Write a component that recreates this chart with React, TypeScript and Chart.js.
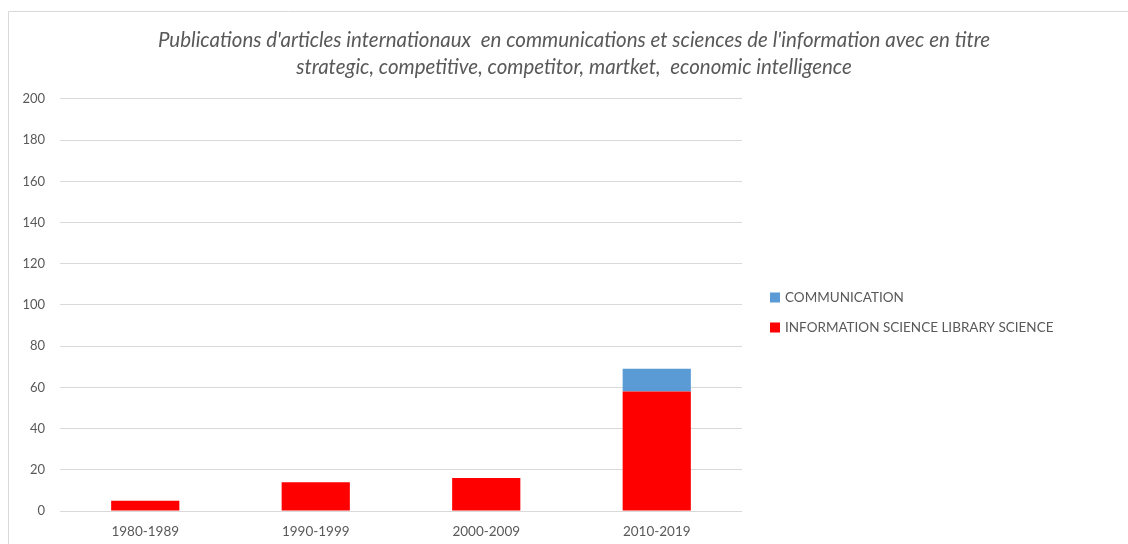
import React, { useEffect, useRef } from "react";
import { Chart, registerables } from "chart.js";

Chart.register(...registerables);

const categories = ["1980-1989", "1990-1999", "2000-2009", "2010-2019"];
const infoScience = [5, 14, 16, 58];
const communication = [0, 0, 0, 11];
const titleLines = [
  "Publications d'articles internationaux  en communications et sciences de l'information avec en titre",
  "strategic, competitive, competitor, martket,  economic intelligence",
];

const GREY = "#595959";
const FONT = "Lato, 'Liberation Sans', sans-serif";

const frame = {
  id: "frame",
  beforeDraw(chart: any) {
    const ctx = chart.ctx;
    ctx.save();
    ctx.strokeStyle = "#d9d9d9";
    ctx.lineWidth = 1;
    ctx.beginPath();
    ctx.moveTo(8.5, chart.height);
    ctx.lineTo(8.5, 11.5);
    ctx.lineTo(chart.width, 11.5);
    ctx.stroke();
    ctx.restore();
  },
};

const sideLegend = {
  id: "sideLegend",
  afterDraw(chart: any) {
    const ctx = chart.ctx;
    const area = chart.chartArea;
    const items = chart.data.datasets.slice().reverse();
    const x = area.right + 28;
    let y = (area.top + area.bottom) / 2 - 7.5;
    ctx.save();
    ctx.font = `13.5px ${FONT}`;
    ctx.textBaseline = "middle";
    ctx.textAlign = "left";
    items.forEach((ds: any) => {
      ctx.fillStyle = ds.backgroundColor;
      ctx.fillRect(x, y - 5, 10, 10);
      ctx.fillStyle = GREY;
      ctx.fillText(ds.label, x + 15, y);
      y += 30;
    });
    ctx.restore();
  },
};

export default function App() {
  const ref = useRef<HTMLCanvasElement>(null);
  useEffect(() => {
    document.body.style.margin = "0";
    const chart = new Chart(ref.current!, {
      type: "bar",
      data: {
        labels: categories,
        datasets: [
          {
            label: "INFORMATION SCIENCE LIBRARY SCIENCE",
            data: infoScience,
            backgroundColor: "#ff0000",
            categoryPercentage: 0.8,
            barPercentage: 0.5,
          },
          {
            label: "COMMUNICATION",
            data: communication,
            backgroundColor: "#5b9bd5",
            categoryPercentage: 0.8,
            barPercentage: 0.5,
          },
        ],
      },
      options: {
        animation: false,
        responsive: false,
        layout: { padding: { left: 20, right: 0, top: 0, bottom: 0 } },
        plugins: {
          title: {
            display: true,
            text: titleLines,
            color: GREY,
            font: { family: FONT, size: 20.5, style: "italic", weight: "normal", lineHeight: 1.317 },
            padding: { top: 26.5, bottom: 18.5 },
          },
          legend: { display: false },
          tooltip: { enabled: false },
        },
        scales: {
          x: {
            stacked: true,
            grid: { display: false, drawTicks: false },
            border: { display: false },
            ticks: { color: GREY, font: { family: FONT, size: 13.5 }, padding: 13 },
            afterFit: (s: any) => {
              s.height = 33;
            },
          },
          y: {
            stacked: true,
            min: 0,
            max: 200,
            grid: { color: "#d9d9d9", drawTicks: false },
            border: { display: false },
            ticks: { stepSize: 20, color: GREY, font: { family: FONT, size: 13 }, padding: 15 },
            afterFit: (s: any) => {
              s.width = 40;
            },
          },
          spacer: {
            type: "linear",
            position: "right",
            display: true,
            grid: { display: false, drawTicks: false },
            border: { display: false },
            ticks: { display: false },
            afterFit: (s: any) => {
              s.width = 386;
            },
          },
        },
      },
      plugins: [frame, sideLegend],
    });
    return () => chart.destroy();
  }, []);
  return (
    <div style={{ width: 1128, height: 544 }}>
      <canvas ref={ref} width={1128} height={544} />
    </div>
  );
}
